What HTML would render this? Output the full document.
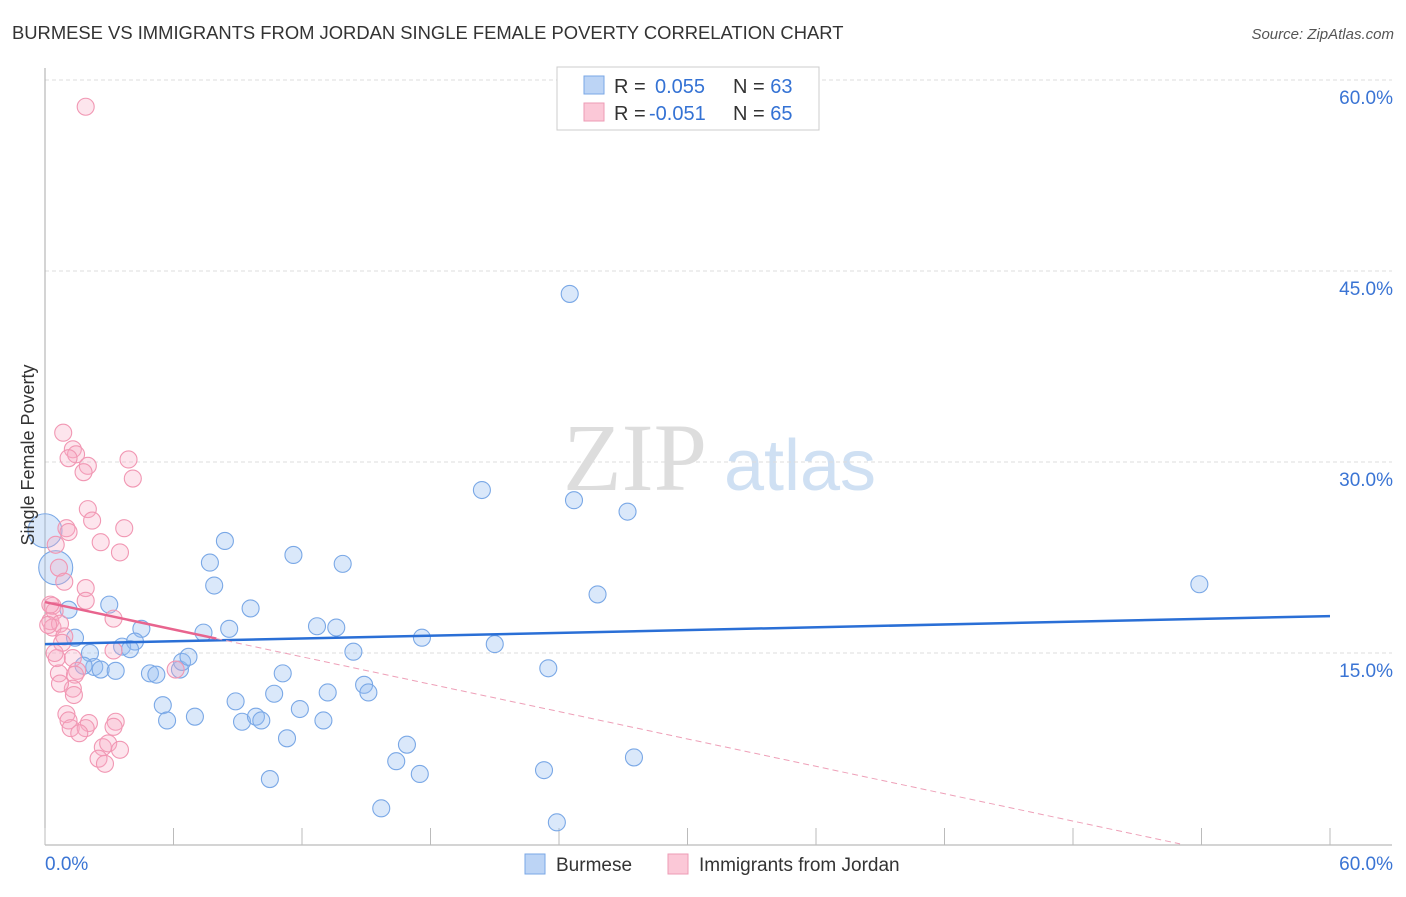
<!DOCTYPE html>
<html><head><meta charset="utf-8"><style>
body{margin:0;background:#fff;font-family:"Liberation Sans",sans-serif}
</style></head><body>
<svg id="chart" width="1406" height="892" xmlns="http://www.w3.org/2000/svg" font-family="Liberation Sans, sans-serif">
<text x="12" y="39" font-size="18.4" fill="#333">BURMESE VS IMMIGRANTS FROM JORDAN SINGLE FEMALE POVERTY CORRELATION CHART</text>
<text x="1394" y="39" font-size="15" fill="#555" font-style="italic" text-anchor="end">Source: ZipAtlas.com</text>
<g>
<text x="635" y="490" font-size="96" fill="#ddd" font-family="Liberation Serif, serif" text-anchor="middle">ZIP</text>
<text x="800" y="490" font-size="72" fill="#cfe0f3" text-anchor="middle">atlas</text>
</g>
<g id="grid"></g>
<g id="axes"></g>
<g id="pts"></g>
<g id="lines"></g>
<text transform="translate(34,455) rotate(-90)" font-size="18" fill="#333" text-anchor="middle">Single Female Poverty</text>
<g>
<rect x="557" y="67" width="262" height="63" fill="#fff" stroke="#ccc"/>
<rect x="584" y="76" width="20" height="18" fill="#bcd4f5" stroke="#7aa7e6"/>
<rect x="584" y="103" width="20" height="18" fill="#fbc8d7" stroke="#ee9bb5"/>
<text x="614" y="93" font-size="20" fill="#333">R = <tspan fill="#3472d4" x="655">0.055</tspan><tspan fill="#333" x="733">N = </tspan><tspan fill="#3472d4">63</tspan></text>
<text x="614" y="120" font-size="20" fill="#333">R = <tspan fill="#3472d4" x="649">-0.051</tspan><tspan fill="#333" x="733">N = </tspan><tspan fill="#3472d4">65</tspan></text>
</g>
<g>
<rect x="525" y="854" width="20" height="20" fill="#bcd4f5" stroke="#7aa7e6"/>
<text x="556" y="871" font-size="19" fill="#333">Burmese</text>
<rect x="668" y="854" width="20" height="20" fill="#fbc8d7" stroke="#ee9bb5"/>
<text x="699" y="871" font-size="19" fill="#333">Immigrants from Jordan</text>
</g>
</svg>
<script>
const yTicks=[15,30,45,60];
const xTickLabels=["0.0%","60.0%"];
const blueX=[24.5,20.4,24.7,27.2,53.9,25.8,8.4,11.6,13.9,7.7,7.9,9.6,3.0,1.1,4.5,7.4,8.6,12.7,13.6,17.6,21.0,1.4,3.6,4.2,3.97,2.1,2.3,2.6,3.3,4.9,5.2,6.3,6.4,6.7,14.4,11.1,23.5,5.5,5.7,7.0,8.9,9.2,9.85,10.1,10.7,11.9,13.0,13.2,14.9,15.1,11.3,16.9,16.4,17.5,23.3,27.5,10.5,15.7,23.9,0.0,0.5,1.8];
const blueY=[43.2,27.8,27.0,26.1,20.4,19.6,23.8,22.7,22.0,22.1,20.3,18.5,18.8,18.4,16.9,16.6,16.9,17.1,17.0,16.2,15.7,16.2,15.5,15.9,15.3,15.0,13.9,13.7,13.6,13.4,13.3,13.7,14.3,14.7,15.1,13.4,13.8,10.9,9.7,10.0,11.2,9.6,10.0,9.7,11.8,10.6,9.7,11.9,12.5,11.9,8.3,7.8,6.5,5.5,5.8,6.8,5.1,2.8,1.7,24.6,21.7,14.0];
const pinkX=[1.9,0.85,1.3,1.45,1.1,2.0,1.8,3.9,4.1,2.0,2.2,1.0,1.1,3.7,2.6,0.5,3.5,0.65,0.9,1.9,1.9,0.35,0.45,0.25,0.35,0.7,0.9,0.8,3.2,3.2,0.55,1.3,1.5,1.4,0.65,1.3,1.35,6.1,1.0,1.1,1.2,2.05,1.9,1.6,3.3,3.2,2.7,2.95,3.5,2.5,2.8,0.25,0.15,0.45,0.7];
const pinkY=[57.9,32.3,31.0,30.6,30.3,29.7,29.2,30.2,28.7,26.3,25.4,24.8,24.5,24.8,23.7,23.5,22.9,21.7,20.6,20.1,19.1,18.7,18.3,17.5,17.0,17.3,16.3,15.8,17.7,15.2,14.6,14.6,13.6,13.3,13.4,12.2,11.7,13.7,10.2,9.7,9.1,9.5,9.1,8.7,9.6,9.2,7.6,7.9,7.4,6.7,6.3,18.8,17.2,15.0,12.6];
const blueTrend=[15.7,17.9];
const pinkTrend=[19.0,-2.5];
const X=v=>45+v*(1285/60);
const Y=v=>844-v*(764/60);
const NS="http://www.w3.org/2000/svg";
function mk(tag,attrs,parent){const e=document.createElementNS(NS,tag);for(const k in attrs)e.setAttribute(k,attrs[k]);document.getElementById(parent).appendChild(e);return e;}
yTicks.forEach(t=>{
 const l=mk('line',{x1:45,x2:1392,y1:Y(t),y2:Y(t),stroke:'#ddd','stroke-dasharray':'4,3'},'grid');
 
 
 const tx=mk('text',{x:1393,y:Y(t)+24,'font-size':19,fill:'#3a74d4','text-anchor':'end'},'grid');
 tx.textContent=t.toFixed(1)+'%';
 
 
});
const ax=mk('line',{x1:45,x2:45,y1:68,y2:845,stroke:'#aaa'},'axes');


const bx=mk('line',{x1:45,x2:1392,y1:845,y2:845,stroke:'#aaa'},'axes');


for(let i=0;i<=10;i++){const xx=45+i*128.5;const t=mk('line',{x1:xx,x2:xx,y1:828,y2:845,stroke:'#bbb'},'axes');
 
 }
const xl0=mk('text',{x:45,y:870,'font-size':19,fill:'#3a74d4'},'axes');xl0.textContent=xTickLabels[0];


const xl1=mk('text',{x:1393,y:870,'font-size':19,fill:'#3a74d4','text-anchor':'end'},'axes');xl1.textContent=xTickLabels[1];


blueX.forEach((v,i)=>{const big=(i==59||i==60);
 const c=mk('circle',{cx:X(v),cy:Y(blueY[i]),r:big?17:8.5,fill:'rgba(150,190,240,0.35)',stroke:'#7aa8e6','stroke-width':1.1},'pts');
 
 });
pinkX.forEach((v,i)=>{
 const c=mk('circle',{cx:X(v),cy:Y(pinkY[i]),r:8.5,fill:'rgba(248,170,195,0.3)',stroke:'#f197b3','stroke-width':1.1},'pts');
 
 });
const bl=mk('line',{x1:X(0),y1:Y(blueTrend[0]),x2:X(60),y2:Y(blueTrend[1]),stroke:'#2a6fd6','stroke-width':2.5},'lines');


const pv=x=>pinkTrend[0]+(pinkTrend[1]-pinkTrend[0])*x/60;
const ps=mk('line',{x1:X(0),y1:Y(pv(0)),x2:X(8),y2:Y(pv(8)),stroke:'#e8648e','stroke-width':2.5},'lines');


const pd=mk('line',{x1:X(8),y1:Y(pv(8)),x2:X(53),y2:Y(pv(53)),stroke:'#eea0b8','stroke-width':1,'stroke-dasharray':'6,4'},'lines');


</script>
</body></html>
